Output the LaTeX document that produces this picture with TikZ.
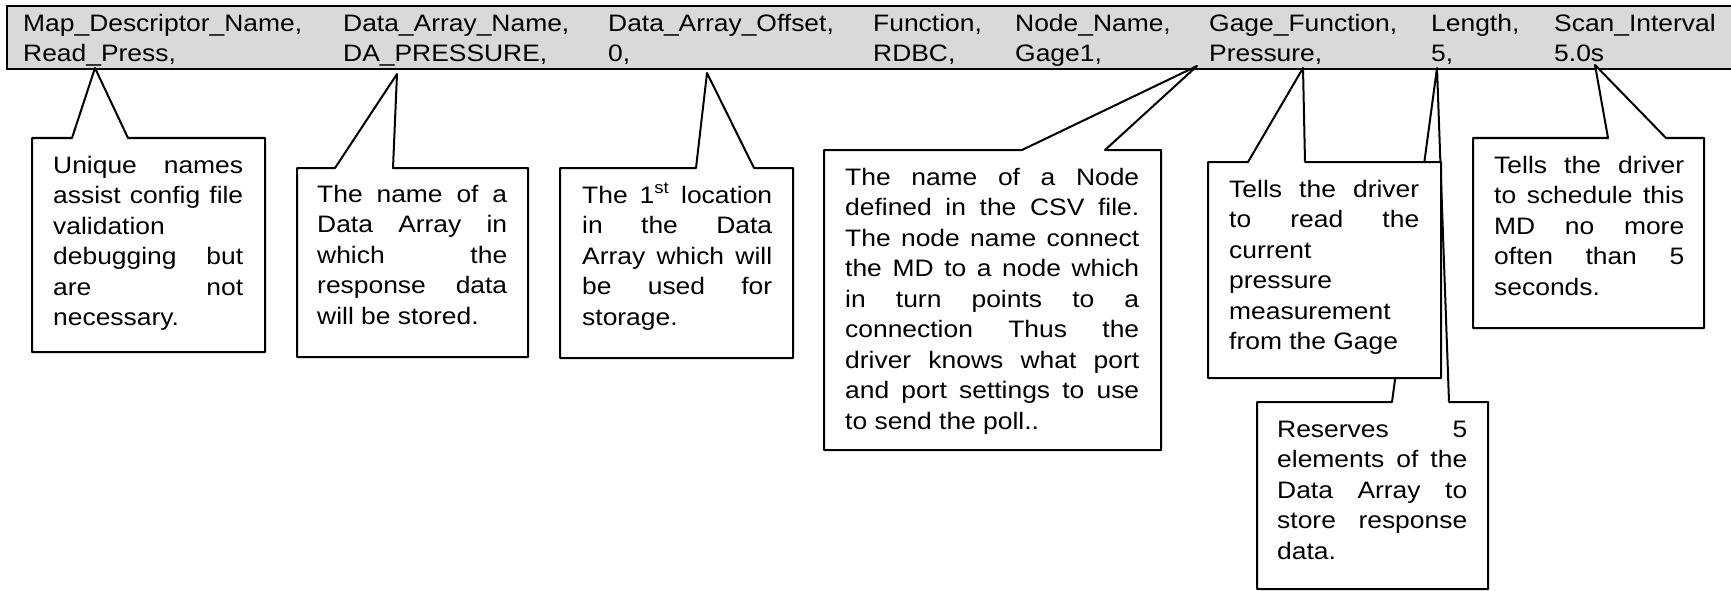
\documentclass[tikz,border=0pt]{standalone}
\usepackage{fontspec}
\setmainfont{Liberation Sans}[FakeStretch=1.11]
\definecolor{barfill}{RGB}{217,217,217}
\newcommand\J[2][190pt]{\makebox[#1][s]{#2}}
\tikzset{
  txt/.style={anchor=base west, inner sep=0pt, font=\fontsize{23.8pt}{30.5pt}\selectfont},
  calloutbox/.style={draw=black, fill=white, line width=2pt, line join=round},
  barbox/.style={draw=black, fill=barfill, line width=2.2pt}
}
\begin{document}
\begin{tikzpicture}[x=1pt, y=-1pt]
\useasboundingbox (0,0) rectangle (1731,591);
% header bar
\fill[barfill] (7,6) rectangle (1731,69);
\draw[line width=2.2pt] (1731,6) -- (7,6) -- (7,69) -- (1731,69);
\node[txt] (h1) at (23,32) {Map\_Descriptor\_Name,};
\node[txt] (h2) at (343,32) {Data\_Array\_Name,};
\node[txt] (h3) at (608,32) {Data\_Array\_Offset,};
\node[txt] (h4) at (873,32) {Function,};
\node[txt] (h5) at (1015,32) {Node\_Name,};
\node[txt] (h6) at (1209,32) {Gage\_Function,};
\node[txt] (h7) at (1431,32) {Length,};
\node[txt] (h8) at (1554,32) {Scan\_Interval};
\node[txt] (v1) at (23,62) {Read\_Press,};
\node[txt] (v2) at (343,62) {DA\_PRESSURE,};
\node[txt] (v3) at (608,62) {0,};
\node[txt] (v4) at (873,62) {RDBC,};
\node[txt] (v5) at (1015,62) {Gage1,};
\node[txt] (v6) at (1209,62) {Pressure,};
\node[txt] (v7) at (1431,62) {5,};
\node[txt] (v8) at (1554,62) {5.0s};
% pointer tips
\coordinate (t1) at (95,68);
\coordinate (t2) at (397,74);
\coordinate (t3) at (707,73);
\coordinate (t4) at (1197,66);
\coordinate (t5) at (1303,68);
\coordinate (t6) at (1437,68);
\coordinate (t7) at (1595,65);
% callout 1
\draw[calloutbox] (32,138) -- (72,138) -- (t1) -- (128,138) -- (265,138) -- (265,352) -- (32,352) -- cycle;
\foreach \lntxt [count=\i] in {{\J{Unique names}},{\J{assist config file}},{validation},{\J{debugging but}},{\J{are not}},{necessary.}}
  \node[txt] (ca\i) at (53,{173+(\i-1)*30.5}) {\lntxt};
% callout 2
\draw[calloutbox] (297,168) -- (335,168) -- (t2) -- (393,168) -- (528,168) -- (528,357) -- (297,357) -- cycle;
\foreach \lntxt [count=\i] in {{\J{The name of a}},{\J{Data Array in}},{\J{which the}},{\J{response data}},{will be stored.}}
  \node[txt] (cb\i) at (317,{202+(\i-1)*30.5}) {\lntxt};
% callout 3
\draw[calloutbox] (560,168) -- (696,168) -- (t3) -- (754,168) -- (793,168) -- (793,358) -- (560,358) -- cycle;
\foreach \lntxt [count=\i] in {{\J{The 1\textsuperscript{st} location}},{\J{in the Data}},{\J{Array which will}},{\J{be used for}},{storage.}}
  \node[txt] (cc\i) at (582,{203+(\i-1)*30.5}) {\lntxt};
% callout 4
\draw[calloutbox] (824,150) -- (1022,150) -- (t4) -- (1105,150) -- (1161,150) -- (1161,450) -- (824,450) -- cycle;
\foreach \lntxt [count=\i] in {{\J[294pt]{The name of a Node}},{\J[294pt]{defined in the CSV file.}},{\J[294pt]{The node name connect}},{\J[294pt]{the MD to a node which}},{\J[294pt]{in turn points to a}},{\J[294pt]{connection Thus the}},{\J[294pt]{driver knows what port}},{\J[294pt]{and port settings to use}},{to send the poll..}}
  \node[txt] (cd\i) at (845,{185+(\i-1)*30.5}) {\lntxt};
% callout 6 (drawn before 5, which hides part of its pointer)
\draw[calloutbox] (1257,402) -- (1392,402) -- (t6) -- (1449,402) -- (1488,402) -- (1488,589) -- (1257,589) -- cycle;
\foreach \lntxt [count=\i] in {{\J{Reserves 5}},{\J{elements of the}},{\J{Data Array to}},{\J{store response}},{data.}}
  \node[txt] (cf\i) at (1277,{437+(\i-1)*30.5}) {\lntxt};
% callout 5
\draw[calloutbox] (1208,162) -- (1248,162) -- (t5) -- (1305,162) -- (1441,162) -- (1441,378) -- (1208,378) -- cycle;
\foreach \lntxt [count=\i] in {{\J{Tells the driver}},{\J{to read the}},{current},{pressure},{measurement},{from the Gage}}
  \node[txt] (ce\i) at (1229,{197+(\i-1)*30.5}) {\lntxt};
% callout 7
\draw[calloutbox] (1473,138) -- (1608,138) -- (t7) -- (1666,138) -- (1704,138) -- (1704,328) -- (1473,328) -- cycle;
\foreach \lntxt [count=\i] in {{\J{Tells the driver}},{\J{to schedule this}},{\J{MD no more}},{\J{often than 5}},{seconds.}}
  \node[txt] (cg\i) at (1494,{173+(\i-1)*30.5}) {\lntxt};
\end{tikzpicture}
\end{document}
